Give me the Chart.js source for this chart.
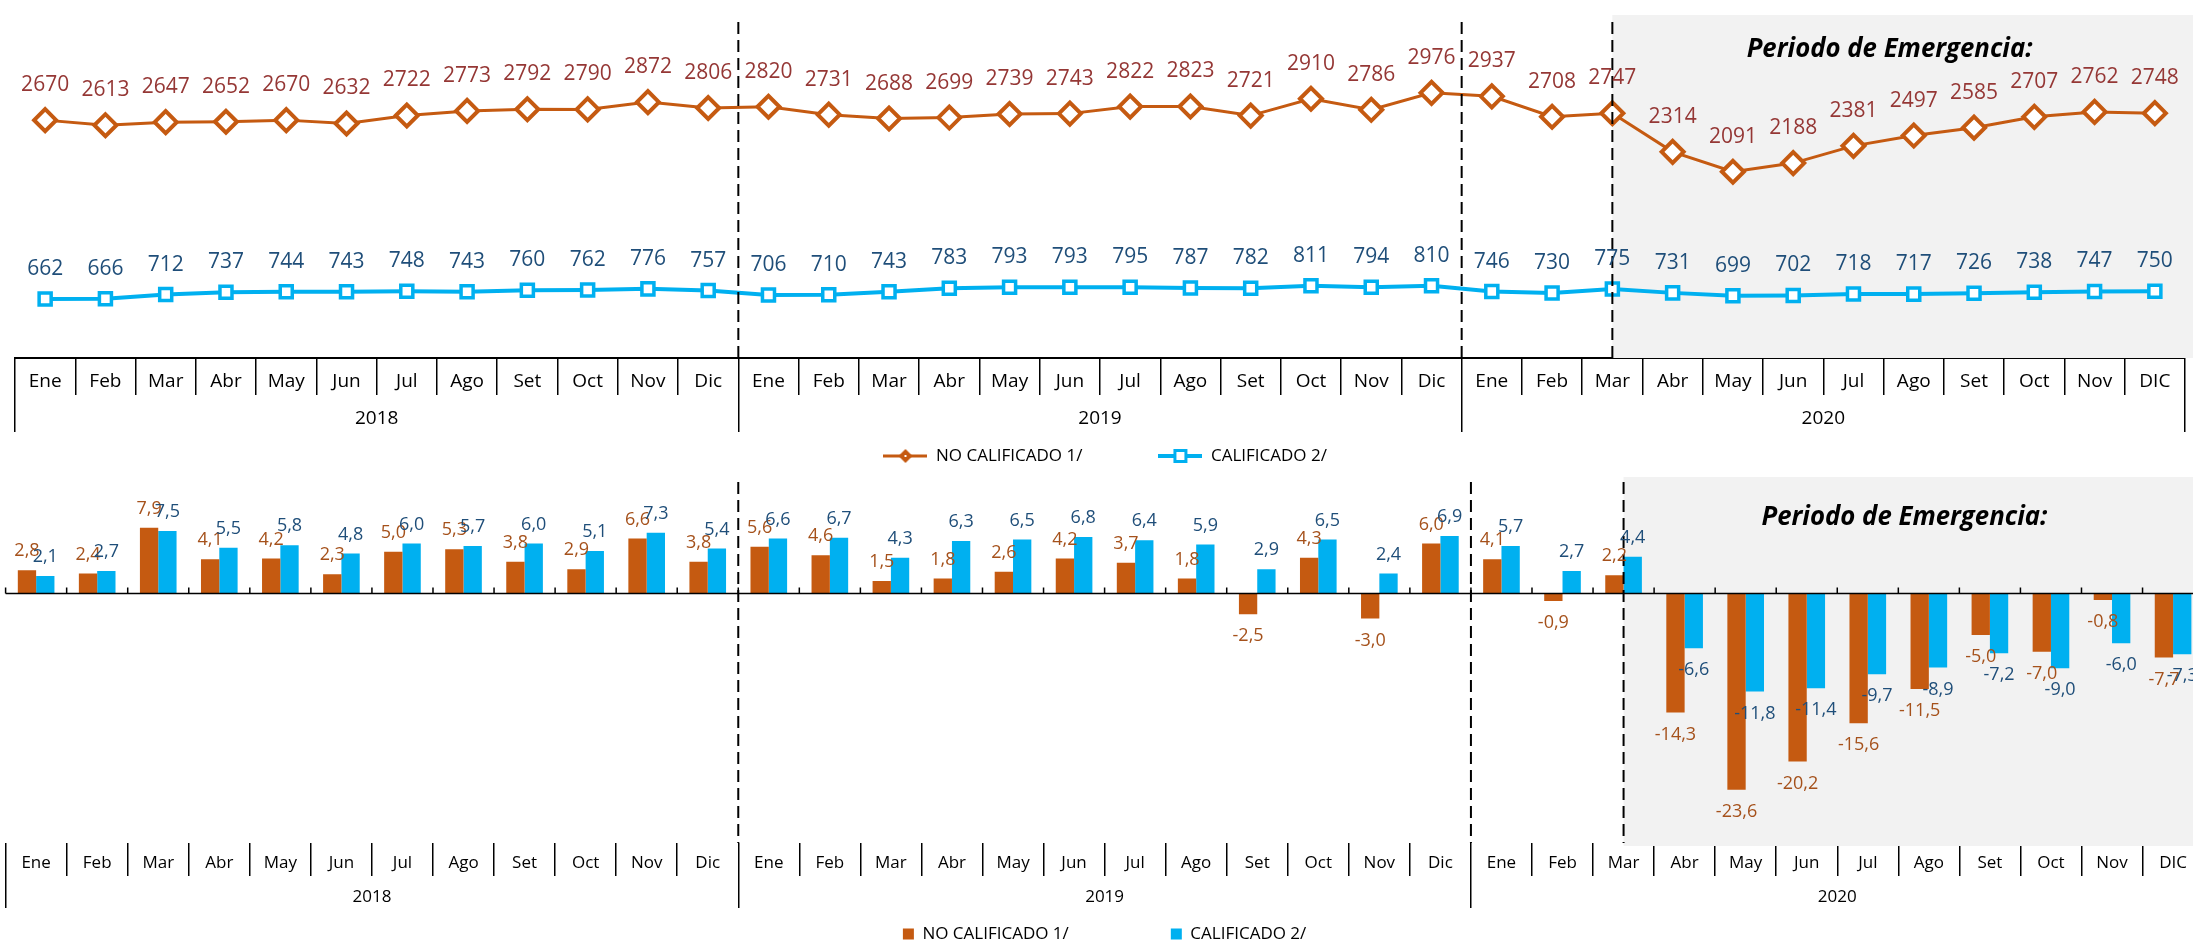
<!DOCTYPE html>
<html>
<head>
<meta charset="utf-8">
<script src="https://cdn.jsdelivr.net/npm/chart.js@4.4.1/dist/chart.umd.min.js"></script>
<style>
  html, body { margin: 0; padding: 0; background: #fff; overflow: hidden; }
  #top { position: absolute; left: 0; top: 0; }
  #bottom { position: absolute; left: 0; top: 470px; }
</style>
</head>
<body>
<canvas id="top" width="2200" height="470"></canvas>
<canvas id="bottom" width="2206" height="473"></canvas>
<script>
// ---- data ----
const months = ['Ene', 'Feb', 'Mar', 'Abr', 'May', 'Jun', 'Jul', 'Ago', 'Set', 'Oct', 'Nov', 'Dic',
  'Ene', 'Feb', 'Mar', 'Abr', 'May', 'Jun', 'Jul', 'Ago', 'Set', 'Oct', 'Nov', 'Dic',
  'Ene', 'Feb', 'Mar', 'Abr', 'May', 'Jun', 'Jul', 'Ago', 'Set', 'Oct', 'Nov', 'DIC'];
const years = ['2018', '2019', '2020'];
const seriesNames = ['NO CALIFICADO 1/', 'CALIFICADO 2/'];

// levels (top chart)
const noCalificado = [2670, 2613, 2647, 2652, 2670, 2632, 2722, 2773, 2792, 2790, 2872, 2806,
  2820, 2731, 2688, 2699, 2739, 2743, 2822, 2823, 2721, 2910, 2786, 2976,
  2937, 2708, 2747, 2314, 2091, 2188, 2381, 2497, 2585, 2707, 2762, 2748];
const calificado = [662, 666, 712, 737, 744, 743, 748, 743, 760, 762, 776, 757,
  706, 710, 743, 783, 793, 793, 795, 787, 782, 811, 794, 810,
  746, 730, 775, 731, 699, 702, 718, 717, 726, 738, 747, 750];

// % variation (bottom chart)
const varNoCalificado = [2.8, 2.4, 7.9, 4.1, 4.2, 2.3, 5.0, 5.3, 3.8, 2.9, 6.6, 3.8,
  5.6, 4.6, 1.5, 1.8, 2.6, 4.2, 3.7, 1.8, -2.5, 4.3, -3.0, 6.0,
  4.1, -0.9, 2.2, -14.3, -23.6, -20.2, -15.6, -11.5, -5.0, -7.0, -0.8, -7.7];
const varCalificado = [2.1, 2.7, 7.5, 5.5, 5.8, 4.8, 6.0, 5.7, 6.0, 5.1, 7.3, 5.4,
  6.6, 6.7, 4.3, 6.3, 6.5, 6.8, 6.4, 5.9, 2.9, 6.5, 2.4, 6.9,
  5.7, 2.7, 4.4, -6.6, -11.8, -11.4, -9.7, -8.9, -7.2, -9.0, -6.0, -7.3];

const emergencyLabel = 'Periodo de Emergencia:';
const emergencyStart = 26;        // Mar 2020
const yearBreaks = [11.5, 23.5];  // between Dic and Ene

// ---- styles ----
const ORANGE = '#C55A11';
const BLUE = '#00B0F0';
const FONT = '"Open Sans", sans-serif';
Chart.defaults.font.family = FONT;
Chart.defaults.color = '#000';

// shaded emergency period, dashed separators, optional zero line
function periodPlugin(o) {
  return {
    id: 'period',
    beforeDatasetsDraw(chart) {
      const {ctx, chartArea: a, scales: {x}} = chart;
      const x0 = x.getPixelForValue(emergencyStart);
      ctx.save();
      ctx.fillStyle = '#F2F2F2';
      ctx.fillRect(x0, a.top, chart.width - x0, a.bottom - a.top + o.shadeExtra);
      ctx.fillStyle = '#000';
      ctx.font = 'italic bold 26px ' + FONT;
      ctx.textAlign = 'center';
      ctx.textBaseline = 'middle';
      ctx.fillText(emergencyLabel, x.getPixelForValue(30.6), a.top + o.textDy, 286);
      ctx.restore();
    },
    afterDatasetsDraw(chart) {
      const {ctx, chartArea: a, scales: {x, y}} = chart;
      ctx.save();
      if (o.zeroLine) {
        const y0 = Math.round(y.getPixelForValue(0)) + 0.5;
        ctx.strokeStyle = '#000';
        ctx.lineWidth = 1.5;
        ctx.beginPath();
        ctx.moveTo(a.left, y0);
        ctx.lineTo(a.right, y0);
        for (let i = 0; i <= months.length; i++) {
          const px = x.getPixelForValue(i - 0.5);
          ctx.moveTo(px, y0);
          ctx.lineTo(px, y0 - 6);
        }
        ctx.stroke();
      }
      ctx.strokeStyle = '#000';
      ctx.lineWidth = 2;
      ctx.setLineDash([12, 6]);
      [...yearBreaks, emergencyStart].forEach(v => {
        const px = x.getPixelForValue(v);
        ctx.beginPath();
        ctx.moveTo(px, a.top + o.dashTop);
        ctx.lineTo(px, a.bottom);
        ctx.stroke();
      });
      ctx.restore();
    }
  };
}

// value labels above points / at bar ends
function labelsPlugin(styles) {
  return {
    id: 'valueLabels',
    afterDraw(chart) {
      const ctx = chart.ctx;
      chart.data.datasets.forEach((ds, di) => {
        const st = styles[di];
        const meta = chart.getDatasetMeta(di);
        ctx.save();
        ctx.font = st.size + 'px ' + FONT;
        ctx.fillStyle = st.color;
        ctx.textAlign = 'center';
        ctx.textBaseline = 'middle';
        meta.data.forEach((el, i) => {
          const v = ds.data[i];
          const txt = st.decimals ? v.toFixed(1).replace('.', ',') : String(v);
          const ty = v >= 0 ? el.y - st.up : el.y + st.down;
          ctx.fillText(txt, el.x, ty);
        });
        ctx.restore();
      });
    }
  };
}

// put the legend row at a given height
function legendAt(centerY, fontSize, padding) {
  return {
    id: 'legendAt',
    afterLayout(chart) {
      chart.legend.top = centerY - fontSize / 2 - padding;
    }
  };
}

function catAxes(monthH, yearH, fontSize, monthPad, yearPad, showBorder) {
  const grid = (len) => ({
    offset: true, drawOnChartArea: false, drawTicks: true,
    tickLength: len, color: '#000', tickColor: '#000', lineWidth: 1.5
  });
  return {
    x: {
      type: 'category', position: 'bottom', weight: 0, offset: true,
      grid: grid(monthH),
      border: {display: showBorder, color: '#000', width: 2},
      ticks: {font: {size: fontSize}, color: '#000', padding: monthPad, autoSkip: false, maxRotation: 0},
      afterFit(s) { s.height = monthH; }
    },
    year: {
      type: 'category', labels: years, position: 'bottom', weight: 1, offset: true,
      grid: grid(yearH),
      border: {display: false},
      ticks: {font: {size: fontSize}, color: '#000', padding: yearPad, autoSkip: false, maxRotation: 0},
      afterFit(s) { s.height = yearH; }
    }
  };
}

function lineIcon(color, kind) {
  const c = document.createElement('canvas');
  c.width = 44; c.height = 18;
  const g = c.getContext('2d');
  g.strokeStyle = color;
  g.lineWidth = kind === 'diamond' ? 3 : 4;
  g.beginPath(); g.moveTo(0, 9); g.lineTo(44, 9); g.stroke();
  if (kind === 'diamond') {
    g.fillStyle = color;
    g.beginPath(); g.moveTo(22, 2); g.lineTo(29, 9); g.lineTo(22, 16); g.lineTo(15, 9); g.closePath(); g.fill();
    g.fillStyle = '#fff';
    g.fillRect(21, 8, 2, 2);
  } else {
    g.fillStyle = '#fff';
    g.lineWidth = 3;
    g.fillRect(16.5, 3.5, 11, 11);
    g.strokeRect(16.5, 3.5, 11, 11);
  }
  return c;
}
const legendIcons = [lineIcon(ORANGE, 'diamond'), lineIcon(BLUE, 'square')];

// ---- top chart: levels ----
new Chart(document.getElementById('top'), {
  type: 'line',
  data: {
    labels: months,
    datasets: [
      {
        label: seriesNames[0], data: noCalificado, xAxisID: 'x', yAxisID: 'y',
        borderColor: ORANGE, borderWidth: 3, tension: 0,
        pointStyle: 'rectRot', pointRadius: 11, pointHoverRadius: 11,
        pointBorderWidth: 4, pointBorderColor: ORANGE, pointBackgroundColor: '#fff'
      },
      {
        label: seriesNames[1], data: calificado, xAxisID: 'x', yAxisID: 'y',
        borderColor: BLUE, borderWidth: 4, tension: 0,
        pointStyle: 'rect', pointRadius: 8.5, pointHoverRadius: 8.5,
        pointBorderWidth: 3.5, pointBorderColor: BLUE, pointBackgroundColor: '#fff'
      }
    ]
  },
  options: {
    responsive: false,
    animation: false,
    layout: {padding: {left: 12.7, right: 2.3, top: 7, bottom: 0}},
    scales: {
      ...catAxes(37, 37, 19, -25, -25, true),
      y: {display: false, min: 0, max: 3850}
    },
    plugins: {
      tooltip: {enabled: false},
      legend: {
        position: 'bottom', maxHeight: 38,
        labels: {
          font: {size: 17}, color: '#000', padding: 76,
          usePointStyle: true, pointStyleWidth: 44,
          generateLabels(chart) {
            return Chart.defaults.plugins.legend.labels.generateLabels(chart)
              .map((it, i) => ({...it, pointStyle: legendIcons[i]}));
          }
        }
      }
    }
  },
  plugins: [
    periodPlugin({shadeExtra: 0, textDy: 35, dashTop: 7, zeroLine: false}),
    labelsPlugin([
      {size: 21, color: '#953735', up: 35, down: 35, decimals: false},
      {size: 21, color: '#1F4E79', up: 30, down: 30, decimals: false}
    ]),
    legendAt(456, 17, 76)
  ]
});

// ---- bottom chart: % variation ----
new Chart(document.getElementById('bottom'), {
  type: 'bar',
  data: {
    labels: months,
    datasets: [
      {label: seriesNames[0], data: varNoCalificado, backgroundColor: ORANGE, borderWidth: 0,
        xAxisID: 'x', yAxisID: 'y', categoryPercentage: 0.6, barPercentage: 1.0},
      {label: seriesNames[1], data: varCalificado, backgroundColor: BLUE, borderWidth: 0,
        xAxisID: 'x', yAxisID: 'y', categoryPercentage: 0.6, barPercentage: 1.0}
    ]
  },
  options: {
    responsive: false,
    animation: false,
    layout: {padding: {left: 5.6, right: 2.4, top: 7, bottom: 0}},
    scales: {
      ...catAxes(33, 32, 17, -23, -21, false),
      y: {display: false, min: -30, max: 14}
    },
    plugins: {
      tooltip: {enabled: false},
      legend: {
        position: 'bottom', maxHeight: 35,
        labels: {font: {size: 17}, color: '#000', padding: 102, boxWidth: 11, boxHeight: 11}
      }
    }
  },
  plugins: [
    periodPlugin({shadeExtra: 3, textDy: 41, dashTop: 5, zeroLine: true}),
    labelsPlugin([
      {size: 18, color: '#A5511B', up: 19, down: 22, decimals: true},
      {size: 18, color: '#1F4E79', up: 19, down: 22, decimals: true}
    ]),
    legendAt(464, 17, 102)
  ]
});
</script>
</body>
</html>
